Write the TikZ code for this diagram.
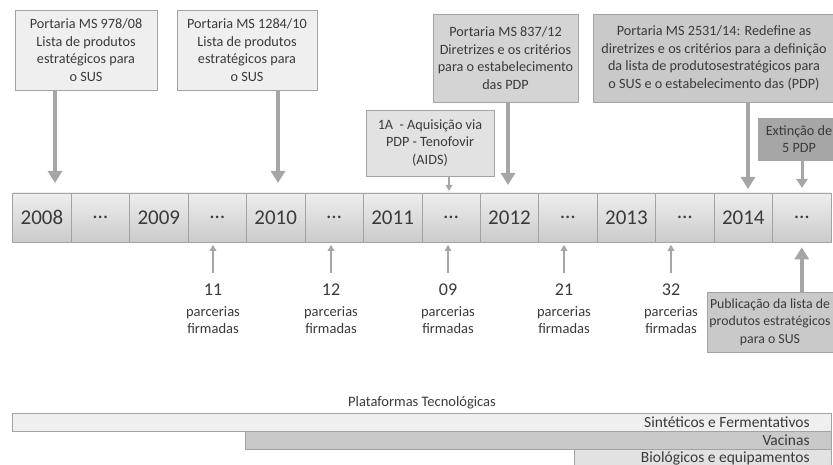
\documentclass[tikz,border=0pt]{standalone}
\usepackage{fontspec}
\setmainfont{Carlito}
\usetikzlibrary{arrows.meta}
\definecolor{txtgray}{HTML}{3A3A3A}
\definecolor{linegray}{HTML}{A3A3A3}
\definecolor{arrgray}{HTML}{A6A6A6}
\definecolor{fillA}{HTML}{EFEFEF}
\definecolor{fillB}{HTML}{E2E2E2}
\definecolor{fillC}{HTML}{D4D4D4}
\definecolor{fillD}{HTML}{C9C9C9}
\definecolor{fillE}{HTML}{A6A6A6}
\definecolor{celltop}{HTML}{EEEEEE}
\definecolor{cellbot}{HTML}{CBCBCB}

\begin{document}
\begin{tikzpicture}[
        x=1pt, y=-1pt,
        every node/.style={text=txtgray},
        event/.style={draw=linegray, line width=0.8pt, align=center, inner sep=0pt,
                      font=\fontsize{14.2}{17.5}\selectfont},
        cell/.style={draw=linegray, line width=0.6pt, minimum width=58.45pt,
                     minimum height=49pt, inner sep=0pt, top color=celltop,
                     bottom color=cellbot, font=\fontsize{21}{21}\selectfont},
        bigarrow/.style={draw=arrgray, line width=4pt, -{Triangle[width=14pt,length=12pt]}},
        midarrow/.style={draw=arrgray, line width=3pt, -{Triangle[width=11pt,length=9pt]}},
        smallarrow/.style={draw=arrgray, line width=1.6pt, -{Triangle[width=6.5pt,length=6pt]}},
        countnum/.style={inner sep=1pt, font=\fontsize{18}{18}\selectfont},
        countlbl/.style={align=center, inner sep=0pt, font=\fontsize{14.5}{16.5}\selectfont},
        platbar/.style={draw=linegray, line width=0.8pt, minimum height=18pt, inner sep=0pt,
                        anchor=north west},
        platlbl/.style={anchor=east, inner sep=0pt, font=\fontsize{15.5}{16}\selectfont}
        ]
        \clip (0,0) rectangle (833,465);

        % linha do tempo
        \foreach \lab [count=\i from 0] in {2008,\dots,2009,\dots,2010,\dots,2011,\dots,2012,\dots,2013,\dots,2014,\dots}
          \node[cell] (c\i) at ({12.7+58.45*(\i+0.5)},217.5)
            {\ifx\lab\dots{\fontsize{13}{13}\selectfont$\cdots$}\else\lab\fi};

        % portarias e eventos
        \node[event, fill=fillA, minimum width=142pt, minimum height=80pt] (b978) at (86,50)
          {Portaria MS 978/08\\Lista de produtos\\estratégicos para\\o SUS};
        \node[event, fill=fillA, minimum width=140pt, minimum height=80pt] (b1284) at (247,50)
          {Portaria MS 1284/10\\Lista de produtos\\estratégicos para\\o SUS};
        \node[event, fill=fillB, minimum width=128pt, minimum height=66pt] (b1A) at (430,143)
          {1A\ \ - Aquisição via\\PDP - Tenofovir\\(AIDS)};
        \node[event, fill=fillC, minimum width=145pt, minimum height=88pt] (b837) at (505.5,58)
          {Portaria MS 837/12\\Diretrizes e os critérios\\para o estabelecimento\\das PDP};
        \node[event, fill=fillD, minimum width=242pt, minimum height=88pt] (b2531) at (714,58)
          {Portaria MS 2531/14: Redefine as\\diretrizes e os critérios para a definição\\da lista de produtosestratégicos para\\o SUS e o estabelecimento das (PDP)};
        \node[event, fill=fillE, minimum width=82pt, minimum height=42pt] (bExt) at (799,139)
          {Extinção de\\5 PDP};
        \node[event, fill=fillD, minimum width=126pt, minimum height=60pt,
              font=\fontsize{13.8}{17.5}\selectfont] (bPub) at (770,322)
          {Publicação da lista de\\produtos estratégicos\\para o SUS};

        \coordinate (t978) at (55,183);
        \coordinate (t1284) at (278,183);
        \coordinate (t1A) at (449,191);
        \coordinate (t837) at (508,185);
        \coordinate (t2531) at (748,189);
        \coordinate (tExt) at (802,188);

        \path (b978.south -| t978) edge[bigarrow] (t978)
              (b1284.south -| t1284) edge[bigarrow] (t1284)
              (b1A.south -| t1A) edge[smallarrow] (t1A)
              (b837.south -| t837) edge[bigarrow] (t837)
              (b2531.south -| t2531) edge[bigarrow] (t2531)
              (bExt.south -| tExt) edge[midarrow] (tExt)
              (bPub.north -| c13) edge[bigarrow, shorten >=5pt] (c13.south);

        % parcerias firmadas
        \foreach \x/\n/\c in {213/11/3, 331/12/5, 448/09/7, 564/21/9, 671/32/11} {
          \node[countnum] (n\n) at (\x,290) {\n};
          \node[countlbl] (p\n) at (\x,320) {parcerias\\firmadas};
          \draw[smallarrow, shorten <=10pt, shorten >=2.5pt] (n\n.north) -- (c\c.south -| n\n.north);
        }

        % plataformas tecnologicas
        \node[font=\fontsize{14.5}{16}\selectfont] (plat) at (422,403) {Plataformas Tecnológicas};
        \node[platbar, fill=fillA, minimum width=819pt] (sint) at (12,413) {};
        \node[platbar, fill=fillD, minimum width=586pt] (vac) at (245,431) {};
        \node[platbar, fill=fillB, minimum width=257pt] (bio) at (574,449) {};
        \node[platlbl] (lsint) at ([xshift=-22pt]sint.east) {Sintéticos e Fermentativos};
        \node[platlbl] (lvac) at ([xshift=-22pt]vac.east) {Vacinas};
        \node[platlbl] (lbio) at ([xshift=-22pt]bio.east) {Biológicos e equipamentos};
\end{tikzpicture}
\end{document}
